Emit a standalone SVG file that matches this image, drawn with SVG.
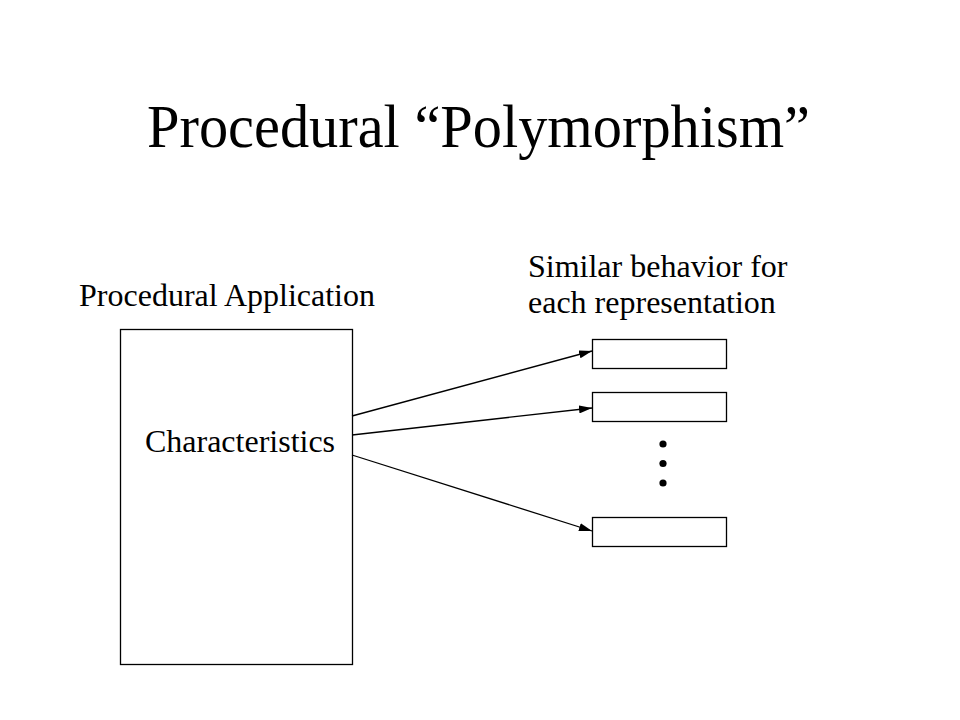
<svg xmlns="http://www.w3.org/2000/svg" width="960" height="720" viewBox="0 0 960 720">
  <style>
    text { font-family: "Liberation Serif", "Times New Roman", serif; fill: #000; }
    .title { font-size: 61px; }
    .label { font-size: 32px; }
    .box { fill: #fff; stroke: #000; stroke-width: 1.3; }
    .edge { fill: none; stroke: #000; stroke-width: 1.3; marker-end: url(#arrow); }
  </style>
  <defs>
    <marker id="arrow" markerUnits="userSpaceOnUse" markerWidth="14" markerHeight="8" refX="13" refY="4" orient="auto">
      <path d="M0,0 L13,4 L0,8 Z" fill="#000"/>
    </marker>
  </defs>
  <rect width="960" height="720" fill="#fff"/>

  <text class="title" x="147" y="147" textLength="663" lengthAdjust="spacingAndGlyphs">Procedural “Polymorphism”</text>

  <g id="application">
    <text class="label" x="227" y="306" text-anchor="middle">Procedural Application</text>
    <rect class="box" x="120.5" y="329.5" width="232" height="335"/>
    <text class="label" x="240" y="452" text-anchor="middle">Characteristics</text>
  </g>

  <g id="behaviors">
    <text class="label" x="528" y="277">Similar behavior for</text>
    <text class="label" x="528" y="313">each representation</text>
  </g>

  <g id="rep1"><rect class="box" x="592.5" y="339.5" width="134" height="29"/></g>
  <g id="rep2"><rect class="box" x="592.5" y="392.5" width="134" height="29"/></g>
  <g id="rep3"><rect class="box" x="592.5" y="517.5" width="134" height="29"/></g>

  <g id="ellipsis" fill="#000">
    <circle cx="663" cy="444" r="3.6"/>
    <circle cx="663" cy="463.5" r="3.6"/>
    <circle cx="663" cy="483" r="3.6"/>
  </g>

  <g id="connectors">
    <line class="edge" x1="352" y1="416" x2="592" y2="351"/>
    <line class="edge" x1="352" y1="435" x2="592" y2="408"/>
    <line class="edge" x1="352" y1="455" x2="592" y2="531"/>
  </g>
</svg>
